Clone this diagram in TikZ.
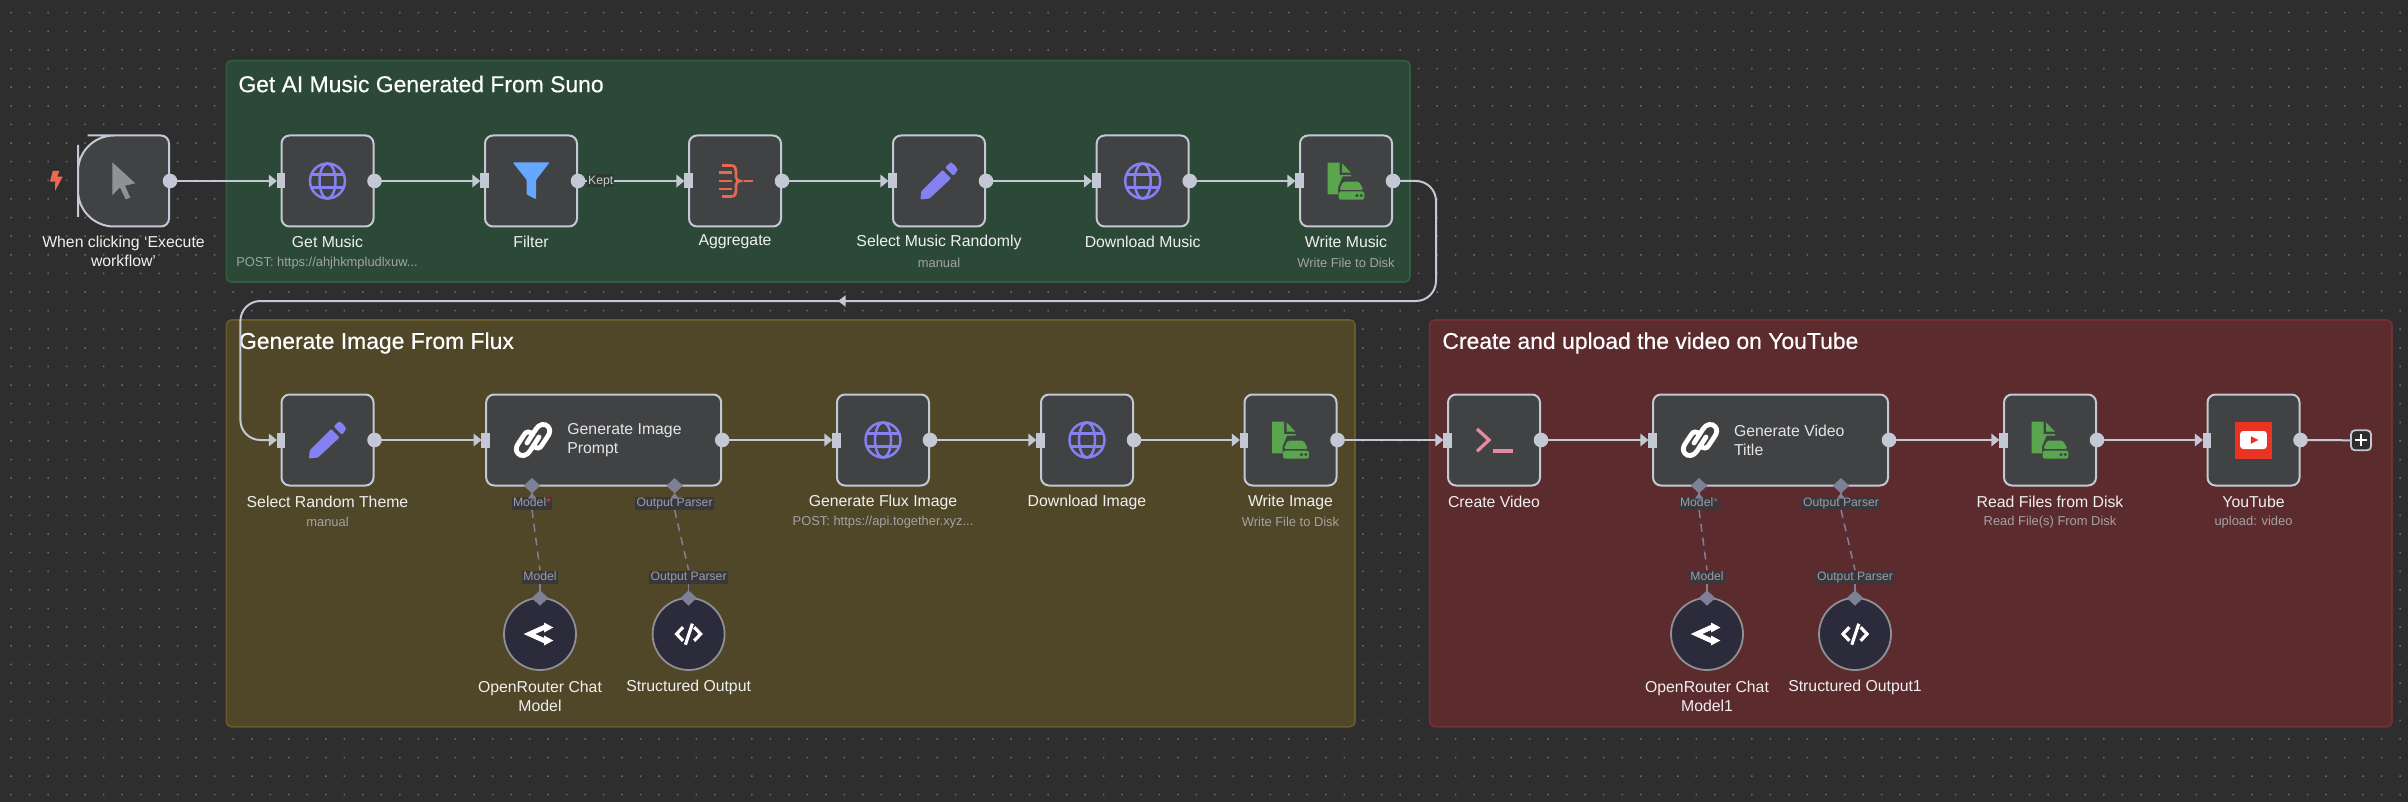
\documentclass[tikz,border=0pt]{standalone}
\usepackage{fontspec}
\setmainfont{Liberation Sans}
\newfontfamily\titlefont[FakeBold=0.45]{Liberation Sans}
\usetikzlibrary{shapes.geometric,arrows.meta}
\definecolor{canvasbg}{HTML}{2E2E2E}
\definecolor{griddot}{HTML}{6E6E6E}
\definecolor{greenfill}{HTML}{2B4936}
\definecolor{greenline}{HTML}{2F5F40}
\definecolor{yellowfill}{HTML}{504628}
\definecolor{yellowline}{HTML}{675A2C}
\definecolor{redfill}{HTML}{5C2B2E}
\definecolor{redline}{HTML}{713036}
\definecolor{boxfill}{HTML}{414244}
\definecolor{boxline}{HTML}{C4C8D4}
\definecolor{subfill}{HTML}{2B2B3B}
\definecolor{subline}{HTML}{8F8F94}
\definecolor{aicol}{HTML}{7E8196}
\definecolor{chipfill}{HTML}{38383C}
\definecolor{chiptext}{HTML}{9C9CA8}
\definecolor{sublabel}{HTML}{A3A3A6}
\definecolor{globecol}{HTML}{8581F0}
\definecolor{funnelcol}{HTML}{66A8FF}
\definecolor{aggcol}{HTML}{E9684F}
\definecolor{filecol}{HTML}{5AA64E}
\definecolor{termcol}{HTML}{E48A9E}
\definecolor{ytcol}{HTML}{E93323}
\definecolor{cursorcol}{HTML}{909194}
\definecolor{boltcol}{HTML}{F0674F}
\tikzset{
  x=0.5pt,y=-0.5pt,
  flowbox/.style={draw=boxline,fill=boxfill,line width=1pt,rounded corners=4pt,minimum width=46pt,minimum height=45.5pt,inner sep=0pt,outer sep=0pt},
  widebox/.style={flowbox,minimum width=117.5pt},
  subnode/.style={circle,draw=subline,fill=subfill,line width=.9pt,minimum size=36pt,inner sep=0pt,outer sep=0pt},
  aidiamond/.style={diamond,fill=aicol,minimum width=8pt,minimum height=7.5pt,inner sep=0pt,outer sep=0pt},
  wire/.style={draw=boxline,line width=1pt},
  arrowwire/.style={wire,-{Triangle[length=4pt,width=6.2pt]},shorten >=2.3pt},
  aiwire/.style={draw=aicol,line width=.75pt},
  aidash/.style={aiwire,dash pattern=on 4pt off 3pt},
  grouptitle/.style={anchor=west,text=white,inner sep=0pt,font=\titlefont\fontsize{11.45}{13}\selectfont},
  lbl/.style={text=white!94!black,inner sep=0pt,align=center,font=\fontsize{7.9}{9.4}\selectfont},
  sublbl/.style={text=sublabel,inner sep=0pt,font=\fontsize{6.45}{7.5}\selectfont},
  innerlbl/.style={text=white!90!black,anchor=west,inner sep=0pt,align=left,font=\fontsize{7.9}{9.6}\selectfont},
  chip/.style={fill=chipfill,text=chiptext,inner sep=.6pt,text height=4.6pt,text depth=.7pt,font=\fontsize{6.1}{7.5}\selectfont},
}
\newcommand\outport[1]{\fill[boxline] ([xshift=.5pt]#1.east) circle (7.3);}
\newcommand\inport[1]{\fill[boxline] ([xshift=-2.4pt,yshift=-3.75pt]#1.west) rectangle ([xshift=1.9pt,yshift=3.75pt]#1.west);}
\newcommand\globeicon[2]{\begin{scope}[shift={(#1,#2)},draw=globecol,line width=1.25pt]
  \draw (0,0) circle (17.5);
  \draw (0,0) ellipse (8 and 17.5);
  \draw (-16,-6.5) -- (16,-6.5) (-16,6.5) -- (16,6.5);
\end{scope}}
\newcommand\penicon[2]{\begin{scope}[shift={(#1,#2)}]
  \fill[globecol,rounded corners=.4pt] (-18.5,18.5) -- (-17.8,10.5) -- (3.5,-11) -- (12,-2.5) -- (-9.5,17.5) -- cycle;
  \fill[globecol,rounded corners=1pt] (6,-13.5) -- (11,-18.5) -- (13,-18.5) -- (18.5,-12.5) -- (18.5,-10.5) -- (14.5,-5) -- cycle;
\end{scope}}
\newcommand\fileicon[2]{\begin{scope}[shift={(#1,#2)}]
  \fill[filecol] (-18.3,-18.3) -- (-6.3,-18.3) -- (-6.3,-6) -- (5,-6) -- (5,-4.5) -- (-3.5,-4.5) -- (-7.8,6) -- (-7.8,13.3) -- (-18.3,13.3) -- cycle;
  \fill[filecol] (-4,-17.7) -- (5,-8.3) -- (-4,-8.3) -- cycle;
  \fill[filecol,rounded corners=.8pt] (-3,.7) -- (13,.7) -- (17.5,8.8) -- (-6.7,8.8) -- cycle;
  \fill[filecol,rounded corners=.8pt] (-7.3,10.5) rectangle (18.3,18.7);
  \fill[boxfill] (11,14.6) circle (1.7) (15.3,14.6) circle (1.7);
\end{scope}}
\newcommand\linkhalf{\draw[white,line width=2.4pt,line cap=round] (-6,3) -- (3,-11) .. controls (6,-16) and (12,-17) .. (15,-13.5) .. controls (17.5,-11) and (17,-7) .. (15,-4) -- (9,5) .. controls (7,9) and (3,9) .. (0.5,5.5);}
\newcommand\linkicon[2]{\begin{scope}[shift={(#1,#2)}]
  \linkhalf
  \begin{scope}[rotate=180]\linkhalf\end{scope}
\end{scope}}
\newcommand\routeicon[2]{\begin{scope}[shift={(#1,#2)},white]
  \draw[line width=2.4pt] (5,-7) -- (-10.5,0) -- (5,7);
  \fill (4,-11.5) -- (13.3,-6.5) -- (4,-1.5) -- cycle;
  \fill (4,1.5) -- (13.3,6.5) -- (4,11.5) -- cycle;
\end{scope}}
\newcommand\codeicon[2]{\begin{scope}[shift={(#1,#2)},white,line width=1.6pt]
  \draw (-5.6,-6.8) -- (-12,0) -- (-5.6,6.8);
  \draw (5.6,-6.8) -- (12,0) -- (5.6,6.8);
  \draw (3.8,-10.3) -- (-3.2,10.7);
\end{scope}}
\begin{document}
\begin{tikzpicture}
\useasboundingbox (0,0) rectangle (2408,802);
\fill[canvasbg] (0,0) rectangle (2408,802);
% dot grid
\fill[griddot] \foreach \i in {0,...,130}{ \foreach \j in {0,...,42}{ ({11+18.52*\i-.75},{12.7+18.62*\j-.75}) rectangle ++(1.5,1.5) } };
% groups
\draw[greenline,fill=greenfill,line width=.8pt,rounded corners=2.5pt] (226.3,60.7) rectangle (1410,282);
\draw[yellowline,fill=yellowfill,line width=.8pt,rounded corners=2.5pt] (226.3,320) rectangle (1355,726.7);
\draw[redline,fill=redfill,line width=.8pt,rounded corners=2.5pt] (1429.6,320) rectangle (2392,726.7);
\node[grouptitle] (t1) at (238,84) {Get AI Music Generated From Suno};
\node[grouptitle] (t2) at (238.6,343) {Generate Image From Flux};
\node[grouptitle] (t3) at (1442,343) {Create and upload the video on YouTube};
% nodes, row 1
\node[minimum width=45.5pt,minimum height=45.5pt,inner sep=0pt,outer sep=0pt] (trigger) at (123.5,181) {};
\draw[boxline,fill=boxfill,line width=1pt]
  (trigger.north) [rounded corners=4pt] -- (trigger.north east) -- (trigger.east) -- (trigger.south east) -- (trigger.south) [rounded corners=18pt] -- (trigger.south west) -- (trigger.west) -- (trigger.north west) -- cycle;
\node[flowbox] (getmusic) at (327.5,181) {};
\node[flowbox] (filter) at (531,181) {};
\node[flowbox] (aggregate) at (735,181) {};
\node[flowbox] (selectmusic) at (939,181) {};
\node[flowbox] (downloadmusic) at (1142.7,181) {};
\node[flowbox] (writemusic) at (1346,181) {};
% row 2
\node[flowbox] (selecttheme) at (327.5,440) {};
\node[widebox] (imgprompt) at (603.7,440) {};
\node[flowbox] (fluximg) at (883,440) {};
\node[flowbox] (downloadimg) at (1087,440) {};
\node[flowbox] (writeimg) at (1290.5,440) {};
\node[flowbox] (createvideo) at (1494,440) {};
\node[widebox] (vidtitle) at (1770.5,440) {};
\node[flowbox] (readfiles) at (2050,440) {};
\node[flowbox] (youtube) at (2253.5,440) {};
\node[draw=boxline,fill=canvasbg,line width=.9pt,rounded corners=2pt,minimum size=10pt,inner sep=0pt,outer sep=0pt] (addbtn) at (2361,440.3) {};
\draw[white,line width=1pt] (2355,440.3) -- (2367,440.3) (2361,434.3) -- (2361,446.3);
% sub nodes
\node[subnode] (ormodel) at (540,634) {};
\node[subnode] (structout) at (688.6,634) {};
\node[subnode] (ormodelb) at (1707,634) {};
\node[subnode] (structoutb) at (1855,634) {};
% icons
\fill[boltcol] (52.7,171) -- (59.3,171) -- (57.3,176.7) -- (62.7,176.7) -- (55,191) -- (55.3,181.7) -- (50,181.7) -- cycle;
\fill[cursorcol] (112.3,162.3) -- (135.3,183.3) -- (125,185.7) -- (130.3,197.7) -- (125.7,199.3) -- (120,187.3) -- (112.3,195.3) -- cycle;
\globeicon{327.5}{181}
\fill[funnelcol,rounded corners=.5pt] (512.7,162.3) -- (549.7,162.3) -- (536,180) -- (536,199.3) -- (526.7,194.5) -- (526.7,180) -- cycle;
\begin{scope}[shift={(735,181)},draw=aggcol,line width=1.35pt]
  \draw (-16.3,-8.3) -- (-3.3,-8.3) (-16.3,0) -- (-3.3,0) (-16.3,8) -- (-3.3,8);
  \draw (-13,-15.5) -- (-4,-15.5) .. controls (0,-15.5) and (1,-13) .. (1,-10) -- (1,-4) .. controls (1,-1) and (3,0) .. (5,0) .. controls (3,0) and (1,1) .. (1,4) -- (1,10) .. controls (1,13) and (0,15.5) .. (-4,15.5) -- (-13,15.5);
  \draw (9.3,0) -- (17.7,0);
\end{scope}
\penicon{939}{181}
\globeicon{1142.7}{181}
\fileicon{1346}{181}
\penicon{327.5}{440}
\linkicon{533}{440}
\globeicon{883}{440}
\globeicon{1087}{440}
\fileicon{1290.5}{440}
\begin{scope}[shift={(1494,440)},termcol,line width=1.65pt]
  \draw (-17,-11) -- (-5,0) -- (-17,11.3);
  \draw (-1.4,11) -- (18.6,11);
\end{scope}
\linkicon{1700}{440}
\fileicon{2050}{440}
\begin{scope}[shift={(2253.5,440)}]
  \fill[ytcol] (-18.5,-18.5) rectangle (18.5,18.5);
  \fill[white,rounded corners=1.5pt] (-13.3,-9) rectangle (13.3,9);
  \fill[ytcol] (-2.7,-3.7) -- (5,0) -- (-2.7,3.7) -- cycle;
\end{scope}
\routeicon{540}{634}
\codeicon{688.6}{634}
\routeicon{1707}{634}
\codeicon{1855}{634}
% labels
\node[lbl] (l1) at (123.5,251.5) {When clicking ‘Execute\\workflow’};
\node[lbl] (l2) at (327.5,242) {Get Music};
\node[sublbl] (s2) at (327,262.7) {POST: https://ahjhkmpludlxuw...};
\node[lbl] (l3) at (531,242) {Filter};
\node[lbl] (l4) at (735,242) {Aggregate};
\node[lbl] (l5) at (939,242) {Select Music Randomly};
\node[sublbl] (s5) at (939,262.7) {manual};
\node[lbl] (l6) at (1142.7,242) {Download Music};
\node[lbl] (l7) at (1346,242) {Write Music};
\node[sublbl] (s7) at (1346,262.7) {Write File to Disk};
\node[lbl] (l8) at (327.5,502) {Select Random Theme};
\node[sublbl] (s8) at (327.5,522) {manual};
\node[innerlbl] (l9) at (567,440.5) {Generate Image\\Prompt};
\node[lbl] (l10) at (883,502) {Generate Flux Image};
\node[sublbl] (s10) at (883,522) {POST: https://api.together.xyz...};
\node[lbl] (l11) at (1087,502) {Download Image};
\node[lbl] (l12) at (1290.5,502) {Write Image};
\node[sublbl] (s12) at (1290.5,522) {Write File to Disk};
\node[lbl] (l13) at (1494,502) {Create Video};
\node[innerlbl] (l14) at (1733.6,440.5) {Generate Video\\Title};
\node[lbl] (l15) at (2050,502) {Read Files from Disk};
\node[sublbl] (s15) at (2050,522) {Read File(s) From Disk};
\node[lbl] (l16) at (2253.5,502) {YouTube};
\node[sublbl] (s16) at (2253.5,522) {upload: video};
\node[lbl] (l17) at (540,696) {OpenRouter Chat\\Model};
\node[lbl] (l18) at (688.6,687) {Structured Output};
\node[lbl] (l19) at (1707,696) {OpenRouter Chat\\Model1};
\node[lbl] (l20) at (1855,687) {Structured Output1};
% diamonds
\node[aidiamond] (d1) at (532,485.7) {};
\node[aidiamond] (d2) at (674.6,485.7) {};
\node[aidiamond] (d3) at (540,598) {};
\node[aidiamond] (d4) at (688.6,598) {};
\node[aidiamond] (d5) at (1699,485.7) {};
\node[aidiamond] (d6) at (1841,485.7) {};
\node[aidiamond] (d7) at (1707,598) {};
\node[aidiamond] (d8) at (1855,598) {};
% chips
\node[chip] (c1) at (532,503) {Model{\color{red!80!white}*}};
\node[chip] (c2) at (674.6,503) {Output Parser};
\node[chip] (c3) at (540,577) {Model};
\node[chip] (c4) at (688.6,577) {Output Parser};
\node[chip] (c5) at (1699,503) {Model{\color{red!80!white}*}};
\node[chip] (c6) at (1841,503) {Output Parser};
\node[chip] (c7) at (1707,577) {Model};
\node[chip] (c8) at (1855,577) {Output Parser};
% AI links
\foreach \a/\b/\c/\d in {d1/c1/c3/d3,d2/c2/c4/d4,d5/c5/c7/d7,d6/c6/c8/d8}{
  \draw[aiwire] (\a) -- (\b.north);
  \draw[aidash] (\b.south) -- (\c.north);
  \draw[aiwire] (\c.south) -- (\d);
  \fill[aicol] ([yshift=-3.6pt]\a.center) -- ([xshift=-2pt,yshift=-6.4pt]\a.center) -- ([xshift=2pt,yshift=-6.4pt]\a.center) -- cycle;
  \node[aidiamond] at (\a) {};
  \node[aidiamond] at (\d) {};
}
% connectors
\foreach \a/\b in {trigger/getmusic,getmusic/filter,filter/aggregate,aggregate/selectmusic,selectmusic/downloadmusic,downloadmusic/writemusic,
  selecttheme/imgprompt,imgprompt/fluximg,fluximg/downloadimg,downloadimg/writeimg,writeimg/createvideo,createvideo/vidtitle,vidtitle/readfiles,readfiles/youtube}{
  \draw[arrowwire] (\a.east) -- (\b.west);
}
\draw[wire] (youtube.east) -- (addbtn.west);
\coordinate (w1) at (1436,181);
\coordinate (w2) at (1436,301);
\coordinate (w3) at (240.4,301);
\coordinate (w4) at (240.4,440);
\coordinate (wm) at (842,301);
\draw[arrowwire,rounded corners=10pt] (writemusic.east) -- (w1) -- (w2) -- (w3) -- (w4) -- (selecttheme.west);
\fill[boxline] (wm) ++(-4,0) -- ++(7.5,-5.7) -- ++(0,11.4) -- cycle;
\node[chip,fill=canvasbg!60!greenfill,text=white!80!black] (kept) at (600.7,181) {Kept};
% ports
\foreach \n in {trigger,getmusic,filter,aggregate,selectmusic,downloadmusic,writemusic,selecttheme,imgprompt,fluximg,downloadimg,writeimg,createvideo,vidtitle,readfiles,youtube}{\outport{\n}}
\foreach \n in {getmusic,filter,aggregate,selectmusic,downloadmusic,writemusic,selecttheme,imgprompt,fluximg,downloadimg,writeimg,createvideo,vidtitle,readfiles,youtube}{\inport{\n}}
\end{tikzpicture}
\end{document}
